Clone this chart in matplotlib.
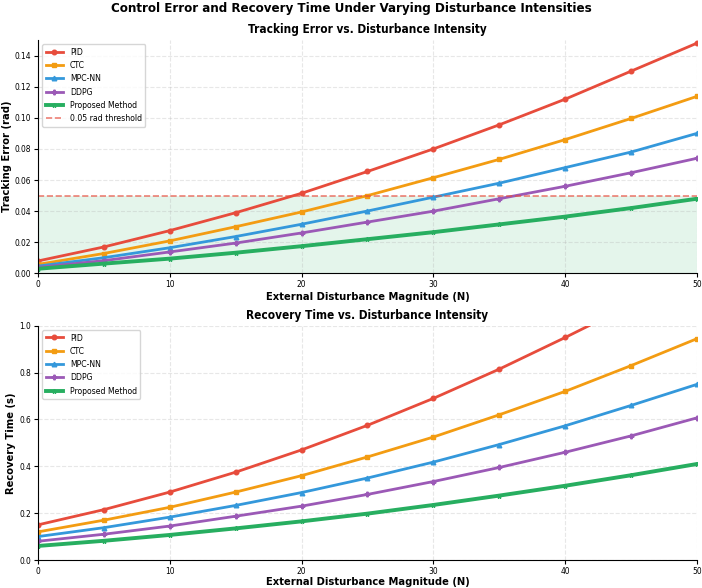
import matplotlib.pyplot as plt

disturbance = [0, 5, 10, 15, 20, 25, 30, 35, 40, 45, 50]

methods = ["PID", "CTC", "MPC-NN", "DDPG", "Proposed Method"]

err_pid = [0.008, 0.017, 0.0275, 0.039, 0.0515, 0.0655, 0.080, 0.0955, 0.112, 0.130, 0.148]
err_ctc = [0.0058, 0.0128, 0.0209, 0.030, 0.0395, 0.050, 0.0615, 0.0733, 0.086, 0.0996, 0.1138]
err_mpc = [0.0047, 0.0101, 0.0165, 0.0237, 0.0316, 0.0401, 0.049, 0.058, 0.068, 0.078, 0.090]
err_ddpg = [0.0039, 0.0082, 0.0138, 0.0195, 0.026, 0.033, 0.040, 0.048, 0.056, 0.0647, 0.074]
err_prop = [0.003, 0.0063, 0.0095, 0.0133, 0.0175, 0.022, 0.0265, 0.0315, 0.0365, 0.042, 0.048]

rec_pid = [0.15, 0.215, 0.29, 0.375, 0.47, 0.575, 0.69, 0.815, 0.95, 1.09, 1.24]
rec_ctc = [0.12, 0.17, 0.225, 0.29, 0.36, 0.44, 0.525, 0.62, 0.72, 0.83, 0.945]
rec_mpc = [0.10, 0.138, 0.183, 0.233, 0.288, 0.35, 0.418, 0.493, 0.573, 0.66, 0.75]
rec_ddpg = [0.08, 0.11, 0.145, 0.187, 0.23, 0.28, 0.335, 0.395, 0.46, 0.53, 0.607]
rec_prop = [0.06, 0.082, 0.107, 0.135, 0.165, 0.198, 0.235, 0.275, 0.317, 0.362, 0.41]

threshold = 0.05

colors = ["#e74c3c", "#f39c12", "#3498db", "#9b59b6", "#27ae60"]
markers = ["o", "s", "^", "P", "*"]
widths = [2, 2, 2, 2, 2.8]

# narrow text like the reference
plt.rcParams["font.stretch"] = "condensed"
plt.rcParams["font.family"] = ["DejaVu Sans"]

fig = plt.figure(figsize=(7.02, 5.88), dpi=100)
ax1 = fig.add_axes([0.054, 0.535, 0.939, 0.397])
ax2 = fig.add_axes([0.054, 0.0476, 0.939, 0.3984])

errors = [err_pid, err_ctc, err_mpc, err_ddpg, err_prop]
recovery = [rec_pid, rec_ctc, rec_mpc, rec_ddpg, rec_prop]

for i in range(5):
    ax1.plot(disturbance, errors[i], color=colors[i], marker=markers[i], markersize=3.3,
             linewidth=widths[i], label=methods[i])
ax1.axhline(threshold, color="#e74c3c", linestyle="--", linewidth=1.2, alpha=0.7,
            label="0.05 rad threshold")
ax1.fill_between([0, 50], 0, threshold, color="#27ae60", alpha=0.12, linewidth=0)
ax1.set_xlim(0, 50)
ax1.set_ylim(0, 0.15)
ax1.set_yticks([0.0, 0.02, 0.04, 0.06, 0.08, 0.10, 0.12, 0.14])
ax1.set_title("Tracking Error vs. Disturbance Intensity", fontsize=8.5, fontweight="bold", pad=5)
ax1.set_xlabel("External Disturbance Magnitude (N)", fontsize=8, fontweight="bold", labelpad=2)
ax1.set_ylabel("Tracking Error (rad)", fontsize=8, fontweight="bold", labelpad=2)

for i in range(5):
    ax2.plot(disturbance, recovery[i], color=colors[i], marker=markers[i], markersize=3.3,
             linewidth=widths[i], label=methods[i])
ax2.set_xlim(0, 50)
ax2.set_ylim(0, 1.0)
ax2.set_title("Recovery Time vs. Disturbance Intensity", fontsize=8.5, fontweight="bold", pad=5)
ax2.set_xlabel("External Disturbance Magnitude (N)", fontsize=8, fontweight="bold", labelpad=1)
ax2.set_ylabel("Recovery Time (s)", fontsize=8, fontweight="bold", labelpad=2)

for ax in [ax1, ax2]:
    ax.grid(True, linestyle="--", alpha=0.3)
    ax.spines["top"].set_visible(False)
    ax.spines["right"].set_visible(False)
    ax.tick_params(labelsize=6, length=3, pad=2)
    ax.legend(loc="upper left", fontsize=6.2)

fig.suptitle("Control Error and Recovery Time Under Varying Disturbance Intensities",
             fontsize=9.5, fontweight="bold", y=0.997)

fig.savefig("out.png", dpi=100)
